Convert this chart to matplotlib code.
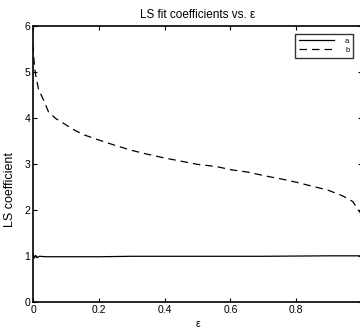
import numpy as np
import matplotlib.pyplot as plt

plt.rcParams['font.family'] = ['Liberation Sans', 'DejaVu Sans']

# coefficient b (dashed)
eps_b = [0.0, 0.002, 0.007, 0.017, 0.032, 0.047, 0.068, 0.093, 0.124, 0.155,
         0.195, 0.246, 0.296, 0.347, 0.398, 0.448, 0.499, 0.558, 0.603, 0.653,
         0.704, 0.755, 0.80, 0.845, 0.896, 0.942, 0.972, 0.987, 1.0]
coef_b = [5.6, 5.34, 4.98, 4.62, 4.40, 4.14, 4.0, 3.89, 3.75, 3.64,
          3.54, 3.42, 3.31, 3.22, 3.14, 3.07, 3.0, 2.95, 2.88, 2.83,
          2.75, 2.68, 2.61, 2.53, 2.44, 2.31, 2.19, 2.02, 1.9]

# coefficient a (solid)
eps_a = [0.0, 0.004, 0.008, 0.012, 0.02, 0.04, 0.1, 0.2, 0.3, 0.5, 0.7, 0.9, 1.0]
coef_a = [1.06, 0.96, 1.02, 0.97, 1.0, 0.99, 0.99, 0.99, 1.0, 1.0, 1.0, 1.01, 1.01]

fig = plt.figure(figsize=(3.6, 3.32), dpi=100)
ax = fig.add_axes([0.0917, 0.0895, 0.9139, 0.8313])

ax.plot(eps_a, coef_a, 'k-', lw=0.9, label='a')
ax.plot(eps_b, coef_b, 'k--', lw=0.9, dashes=(6, 4), label='b')

ax.set_xlim(0, 1)
ax.set_ylim(0, 6)
ax.set_xticks([0, 0.2, 0.4, 0.6, 0.8, 1.0])
ax.set_xticklabels(['0', '0.2', '0.4', '0.6', '0.8', '1'])
ax.set_yticks(range(7))
ax.tick_params(direction='in', top=True, right=True, length=3, width=0.8,
               labelsize=7.5, pad=2)
for s in ax.spines.values():
    s.set_linewidth(1.2)

ax.set_title('LS fit coefficients vs. ε', fontsize=8.5, pad=6)
ax.set_xlabel('ε', fontsize=7.5, labelpad=3)
fig.text(10 / 360, 1 - 227 / 332, 'LS coefficient', rotation=90,
         ha='center', va='bottom', fontsize=9)

leg = ax.legend(loc='upper right', bbox_to_anchor=(357 / 360, 1 - 30 / 332),
                bbox_transform=fig.transFigure, fontsize=5.5, handlelength=4.5,
                frameon=True, fancybox=False, borderpad=0.5, labelspacing=0.2,
                handletextpad=1.5)
leg.get_frame().set_edgecolor('black')
leg.get_frame().set_linewidth(1.0)

fig.savefig('out.png', dpi=100)
